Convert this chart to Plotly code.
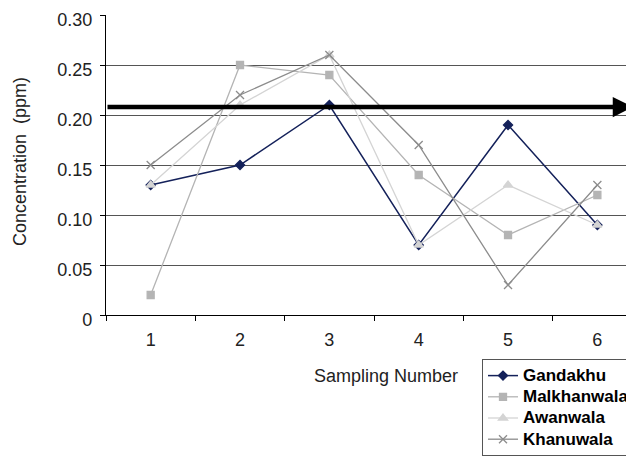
import plotly.graph_objects as go

samples = [1, 2, 3, 4, 5, 6]
gandakhu = [0.13, 0.15, 0.21, 0.07, 0.19, 0.09]
malkhanwala = [0.02, 0.25, 0.24, 0.14, 0.08, 0.12]
awanwala = [0.13, 0.21, 0.26, 0.07, 0.13, 0.09]
khanuwala = [0.15, 0.22, 0.26, 0.17, 0.03, 0.13]
limit = 0.208
y_ticks = [0, 0.05, 0.10, 0.15, 0.20, 0.25, 0.30]
y_labels = ["0", "0.05", "0.10", "0.15", "0.20", "0.25", "0.30"]

FONT = "Liberation Sans, Arial, sans-serif"
W, H = 626, 453  # page shows the figure offset by 8px body margin

fig = go.Figure()
series = [
    ("Gandakhu", gandakhu, "#14215A", "diamond", 7, 1.5),
    ("Malkhanwala", malkhanwala, "#B4B4B4", "square", 7, 1.3),
    ("Awanwala", awanwala, "#D4D4D4", "triangle-up", 8, 1.3),
    ("Khanuwala", khanuwala, "#8C8C8C", "x-thin-open", 8, 1.3),
]
for name, vals, color, sym, size, w in series:
    fig.add_trace(go.Scatter(
        x=samples, y=vals, mode="lines+markers",
        name='<span style="font-size:17px">' + name + "</span>",
        line=dict(color=color, width=w),
        marker=dict(symbol=sym, size=size, color=color,
                    line=dict(color=color, width=1.3)),
    ))

fig.add_annotation(
    x=1, y=limit, xref="paper", yref="y",
    ax=-528, ay=0, axref="pixel", ayref="pixel",
    showarrow=True, arrowhead=2, arrowsize=0.9, arrowwidth=4.5,
    arrowcolor="black", text="",
)
fig.add_annotation(
    text="Concentration  (ppm)", textangle=-90,
    xref="paper", yref="paper", x=-86 / 528, y=0.51, xanchor="center",
    showarrow=False, font=dict(size=18, color="#222", family=FONT),
)
fig.add_annotation(
    text="Sampling Number",
    xref="paper", yref="paper", x=(386 - 106) / 528, y=-61 / 300,
    xanchor="center", yanchor="middle",
    showarrow=False, font=dict(size=18, color="#222", family=FONT),
)

fig.update_layout(
    width=W, height=H,
    margin=dict(l=98, r=0, t=7, b=146, autoexpand=False),
    paper_bgcolor="white", plot_bgcolor="white",
    font=dict(family=FONT, size=18, color="#222"),
    showlegend=True,
    legend=dict(
        xref="container", yref="container", x=474 / W, y=1 - 351 / H,
        xanchor="left", yanchor="top",
        bordercolor="#555", borderwidth=1, bgcolor="white",
        font=dict(size=14, color="black", family=FONT, weight="bold"),
        tracegroupgap=0, itemwidth=30,
    ),
    xaxis=dict(
        range=[0.5, 6.41], tickvals=samples, ticktext=[str(s) for s in samples],
        ticks="", showgrid=False, showline=True, linecolor="black", linewidth=1.3,
        zeroline=False, tickfont=dict(size=18, color="#222"), ticklabelstandoff=8,
        minor=dict(tickvals=[0.5, 1.5, 2.5, 3.5, 4.5, 5.5], ticks="outside",
                   ticklen=5, tickcolor="black", showgrid=False),
    ),
    yaxis=dict(
        range=[0, 0.30], tickvals=y_ticks, ticktext=y_labels,
        ticks="outside", ticklen=5, tickcolor="black",
        showgrid=True, gridcolor="#555", gridwidth=1.2,
        showline=True, linecolor="black", linewidth=1.3, zeroline=False,
        tickfont=dict(size=18, color="#222"), ticklabelstandoff=4,
        ticklabeloverflow="allow", ticklabelshift=5,
    ),
)
fig.write_html("out.html")
